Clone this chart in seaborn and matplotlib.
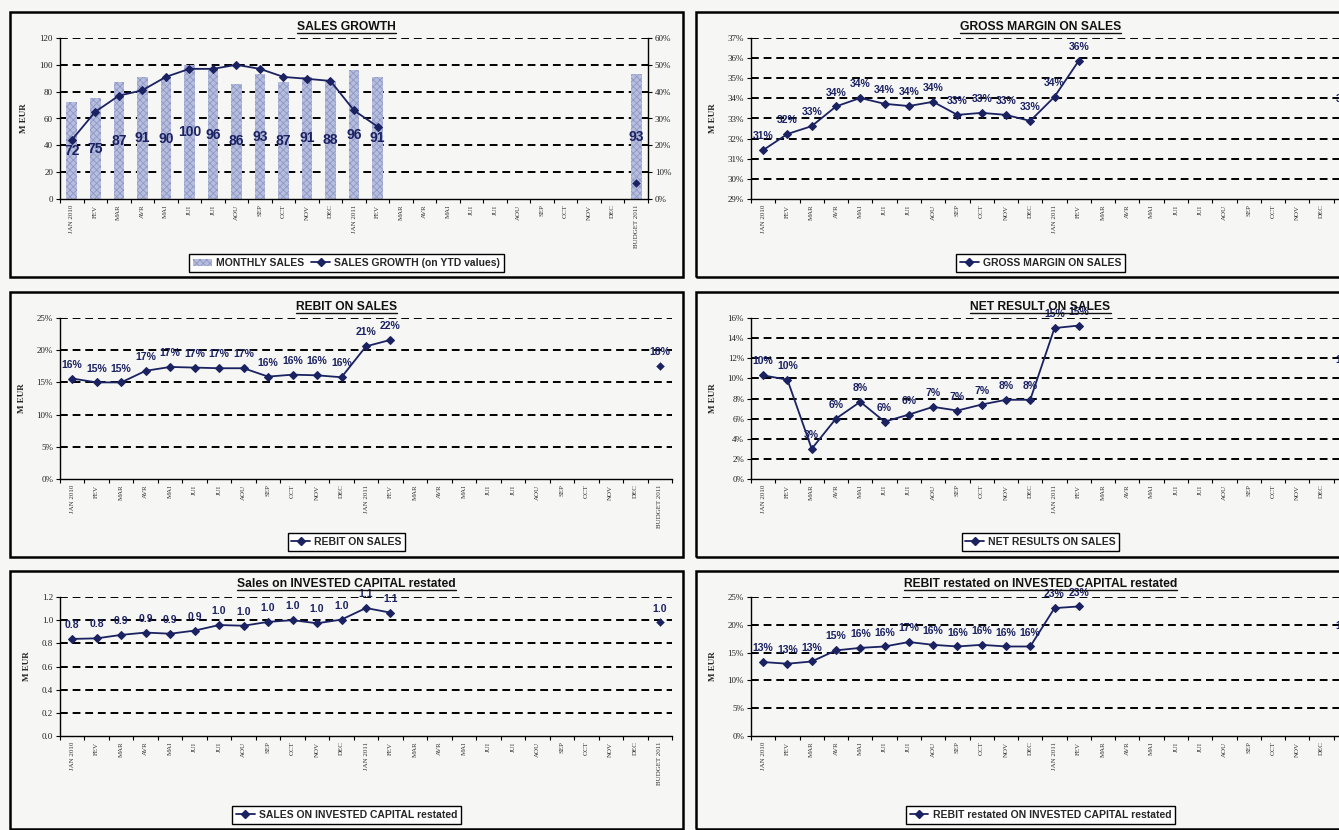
import numpy as np
import pandas as pd
import matplotlib
matplotlib.use("Agg")
import matplotlib.pyplot as plt
import seaborn as sns
from matplotlib.patches import Rectangle, Patch
from matplotlib.lines import Line2D

# ---- data ----
months = ["JAN 2010", "FEV", "MAR", "AVR", "MAI", "JUI", "JUI", "AOU", "SEP", "OCT", "NOV", "DEC",
          "JAN 2011", "FEV", "MAR", "AVR", "MAI", "JUI", "JUI", "AOU", "SEP", "OCT", "NOV", "DEC",
          "BUDGET 2011"]

monthly_sales = [72, 75, 87, 91, 90, 100, 96, 86, 93, 87, 91, 88, 96, 91]
budget_sales = 93
sales_growth = [0.22, 0.325, 0.385, 0.405, 0.455, 0.485, 0.485, 0.50, 0.485, 0.455, 0.448, 0.44, 0.33, 0.27]
budget_growth = 0.06

gross_margin = [0.3143, 0.3223, 0.3262, 0.336, 0.3402, 0.3373, 0.3362, 0.3383, 0.3318, 0.3328, 0.3318,
                0.3288, 0.3408, 0.3587]
budget_gross = 0.333

rebit_sales = [0.156, 0.150, 0.150, 0.168, 0.174, 0.173, 0.172, 0.172, 0.159, 0.162, 0.161, 0.158, 0.206, 0.216]
budget_rebit = 0.176

net_result = [0.103, 0.0987, 0.030, 0.060, 0.0767, 0.057, 0.064, 0.0717, 0.068, 0.074, 0.0787, 0.0787, 0.150,
              0.1525]
budget_net = 0.104

sales_ic = [0.838, 0.843, 0.873, 0.893, 0.883, 0.91, 0.958, 0.952, 0.985, 1.0, 0.973, 1.005, 1.105, 1.065]
budget_sales_ic = 0.98

rebit_ic = [0.133, 0.130, 0.134, 0.154, 0.1585, 0.161, 0.169, 0.164, 0.161, 0.164, 0.161, 0.161, 0.230, 0.233]
budget_rebit_ic = 0.173

W, H = 1339, 830
NAVY = "#1b2262"
BAR = "#b7bedd"
NARROW = ["Liberation Sans Narrow", "Liberation Sans", "DejaVu Sans"]
SERIF = ["Liberation Serif", "DejaVu Serif"]

sns.set_theme(style="white")
plt.rcParams["font.family"] = NARROW
plt.rcParams["hatch.linewidth"] = 0.6

fig = plt.figure(figsize=(W / 100, H / 100), dpi=100)
fig.patch.set_facecolor("#f6f6f4")


def frac(x0, y0, x1, y1):
    return [x0 / W, 1 - y1 / H, (x1 - x0) / W, (y1 - y0) / H]


# rows: box top, box bottom, axes top, axes bottom, title y, legend y
rows = [(12, 277, 38, 199, 27, 263),
        (292, 557, 318, 479, 307, 542),
        (571, 829, 597, 736, 584, 815)]
# columns: box left, box right, axes left, axes right
cols = [(10, 683, 60, 672), (696, 1385, 751, 1358)]

titles = []


def panel(r, c, title, axes_right=None):
    bt, bb, at, ab, ty, ly = rows[r]
    bl, br, al, ar = cols[c]
    if axes_right is not None:
        ar = axes_right
    fig.add_artist(Rectangle((bl / W, 1 - bb / H), (br - bl) / W, (bb - bt) / H, transform=fig.transFigure,
                             fill=False, edgecolor="black", linewidth=1.8))
    t = fig.text((bl + br) / 2 / W, 1 - ty / H, title, ha="center", va="center", fontsize=8.7,
                 fontweight="bold", family=NARROW, color="#111111")
    titles.append(t)
    ax = fig.add_axes(frac(al, at, ar, ab))
    ax.set_facecolor("none")
    return ax, ((bl + br) / 2 / W, 1 - ly / H)


def style_axes(ax, ylo, yhi, step, fmt):
    ax.set_xlim(-0.5, 24.5)
    ax.set_ylim(ylo, yhi)
    ticks = np.arange(ylo, yhi + step / 2, step)
    ax.set_yticks(ticks)
    ax.set_yticklabels([fmt(v) for v in ticks], family=SERIF, fontsize=6.5, color="#222222")
    ax.set_xticks(range(len(months)))
    ax.set_xticklabels(months, rotation=90, family=SERIF, fontsize=5, color="#333333")
    ax.set_xticks(np.arange(-0.5, 25, 1), minor=True)
    ax.tick_params(axis="x", which="major", length=0, pad=4)
    ax.tick_params(axis="x", which="minor", length=3, width=0.8, direction="out", color="black", bottom=True)
    ax.tick_params(axis="y", length=3, width=0.8, direction="out", color="black", left=True, pad=2)
    for v in ticks[1:]:
        ax.axhline(v, color="black", linewidth=1.4, linestyle=(0, (4, 2.5)), zorder=0)
    for s in ["top", "right"]:
        ax.spines[s].set_visible(False)
    for s in ["left", "bottom"]:
        ax.spines[s].set_color("black")
        ax.spines[s].set_linewidth(1.0)
    ax.set_ylabel("M EUR", family=SERIF, fontsize=6.5, fontweight="bold", labelpad=8)
    ax.set_xlabel("")


def draw_line(ax, values, budget, fmt):
    idx = list(range(len(values)))
    sns.lineplot(x=idx, y=values, ax=ax, color=NAVY, linewidth=1.3, marker="D", markersize=4,
                 markeredgecolor=NAVY, legend=False)
    sns.scatterplot(x=[24], y=[budget], ax=ax, color=NAVY, marker="D", s=16, edgecolor=NAVY, legend=False)
    for i, v in zip(idx + [24], values + [budget]):
        ax.annotate(fmt(v), (i, v), xytext=(0, 10), textcoords="offset points", ha="center", va="center",
                    fontsize=7.5, fontweight="bold", color=NAVY, family=NARROW, annotation_clip=False)


def line_legend(ax, pos, label):
    h = Line2D([], [], color=NAVY, linewidth=1.3, marker="D", markersize=4)
    ax.legend([h], [label], loc="center", bbox_to_anchor=pos, bbox_transform=fig.transFigure, frameon=True,
              fancybox=False, edgecolor="black", framealpha=1, facecolor="white", handlelength=1.8,
              handletextpad=0.4, borderpad=0.35, prop={"family": NARROW, "weight": "bold", "size": 7.5})


pct0 = lambda v: f"{v:.0%}"

# ---- SALES GROWTH ----
ax, lpos = panel(0, 0, "SALES GROWTH", axes_right=648)
bar_df = pd.DataFrame({"pos": list(range(len(monthly_sales))) + [24],
                       "sales": monthly_sales + [budget_sales]})
sns.barplot(data=bar_df, x="pos", y="sales", native_scale=True, width=0.45, color=BAR, ax=ax,
            saturation=1, zorder=2)
for p in ax.patches:
    p.set_hatch("xxxxx")
    p.set_edgecolor("#8e98c6")
    p.set_linewidth(0)
style_axes(ax, 0, 120, 20, lambda v: f"{v:.0f}")
for i, v in zip(bar_df["pos"], bar_df["sales"]):
    ax.text(i, v / 2, str(v), ha="center", va="center", fontsize=10, fontweight="bold", color=NAVY,
            family=NARROW, zorder=5)
ax2 = ax.twinx()
sns.lineplot(x=list(range(len(sales_growth))), y=sales_growth, ax=ax2, color=NAVY, linewidth=1.3, marker="D",
             markersize=4, markeredgecolor=NAVY, legend=False)
sns.scatterplot(x=[24], y=[budget_growth], ax=ax2, color=NAVY, marker="D", s=16, edgecolor=NAVY, legend=False)
ax2.set_ylim(0, 0.6)
ax2.set_yticks(np.arange(0, 0.61, 0.1))
ax2.set_yticklabels([pct0(v) for v in np.arange(0, 0.61, 0.1)], family=SERIF, fontsize=6.5, color="#222222")
ax2.tick_params(axis="y", length=3, width=0.8, direction="out", color="black", right=True, pad=2)
for s in ["top", "left", "bottom"]:
    ax2.spines[s].set_visible(False)
ax2.spines["right"].set_color("black")
ax2.spines["right"].set_linewidth(1.0)
ax2.set_ylabel("")
ax2.set_xlim(-0.5, 24.5)
bh = Patch(facecolor=BAR, edgecolor="#8e98c6", hatch="xxxxx", linewidth=0)
lh = Line2D([], [], color=NAVY, linewidth=1.3, marker="D", markersize=4)
ax2.legend([bh, lh], ["MONTHLY SALES", "SALES GROWTH (on YTD values)"], loc="center", ncol=2,
           bbox_to_anchor=lpos, bbox_transform=fig.transFigure, frameon=True, fancybox=False,
           edgecolor="black", framealpha=1, facecolor="white", handlelength=1.8, handletextpad=0.4,
           columnspacing=0.7, borderpad=0.35, prop={"family": NARROW, "weight": "bold", "size": 7.5})

# ---- GROSS MARGIN ON SALES ----
ax, lpos = panel(0, 1, "GROSS MARGIN ON SALES")
style_axes(ax, 0.29, 0.37, 0.01, pct0)
draw_line(ax, gross_margin, budget_gross, pct0)
line_legend(ax, lpos, "GROSS MARGIN ON SALES")

# ---- REBIT ON SALES ----
ax, lpos = panel(1, 0, "REBIT ON SALES")
style_axes(ax, 0, 0.25, 0.05, pct0)
draw_line(ax, rebit_sales, budget_rebit, pct0)
line_legend(ax, lpos, "REBIT ON SALES")

# ---- NET RESULT ON SALES ----
ax, lpos = panel(1, 1, "NET RESULT ON SALES")
style_axes(ax, 0, 0.16, 0.02, pct0)
draw_line(ax, net_result, budget_net, pct0)
line_legend(ax, lpos, "NET RESULTS ON SALES")

# ---- Sales on INVESTED CAPITAL restated ----
ax, lpos = panel(2, 0, "Sales on INVESTED CAPITAL restated")
style_axes(ax, 0, 1.2, 0.2, lambda v: f"{v:.1f}")
draw_line(ax, sales_ic, budget_sales_ic, lambda v: f"{v:.1f}")
line_legend(ax, lpos, "SALES ON INVESTED CAPITAL restated")

# ---- REBIT restated on INVESTED CAPITAL restated ----
ax, lpos = panel(2, 1, "REBIT restated on INVESTED CAPITAL restated")
style_axes(ax, 0, 0.25, 0.05, pct0)
draw_line(ax, rebit_ic, budget_rebit_ic, pct0)
line_legend(ax, lpos, "REBIT restated ON INVESTED CAPITAL restated")

# underline the titles
fig.canvas.draw()
for t in titles:
    bb = t.get_window_extent()
    y = (bb.y0 - 0.5) / H
    fig.add_artist(Line2D([bb.x0 / W, bb.x1 / W], [y, y], transform=fig.transFigure, color="#111111",
                          linewidth=1.0))

fig.savefig("out.png", dpi=100, facecolor=fig.get_facecolor())
